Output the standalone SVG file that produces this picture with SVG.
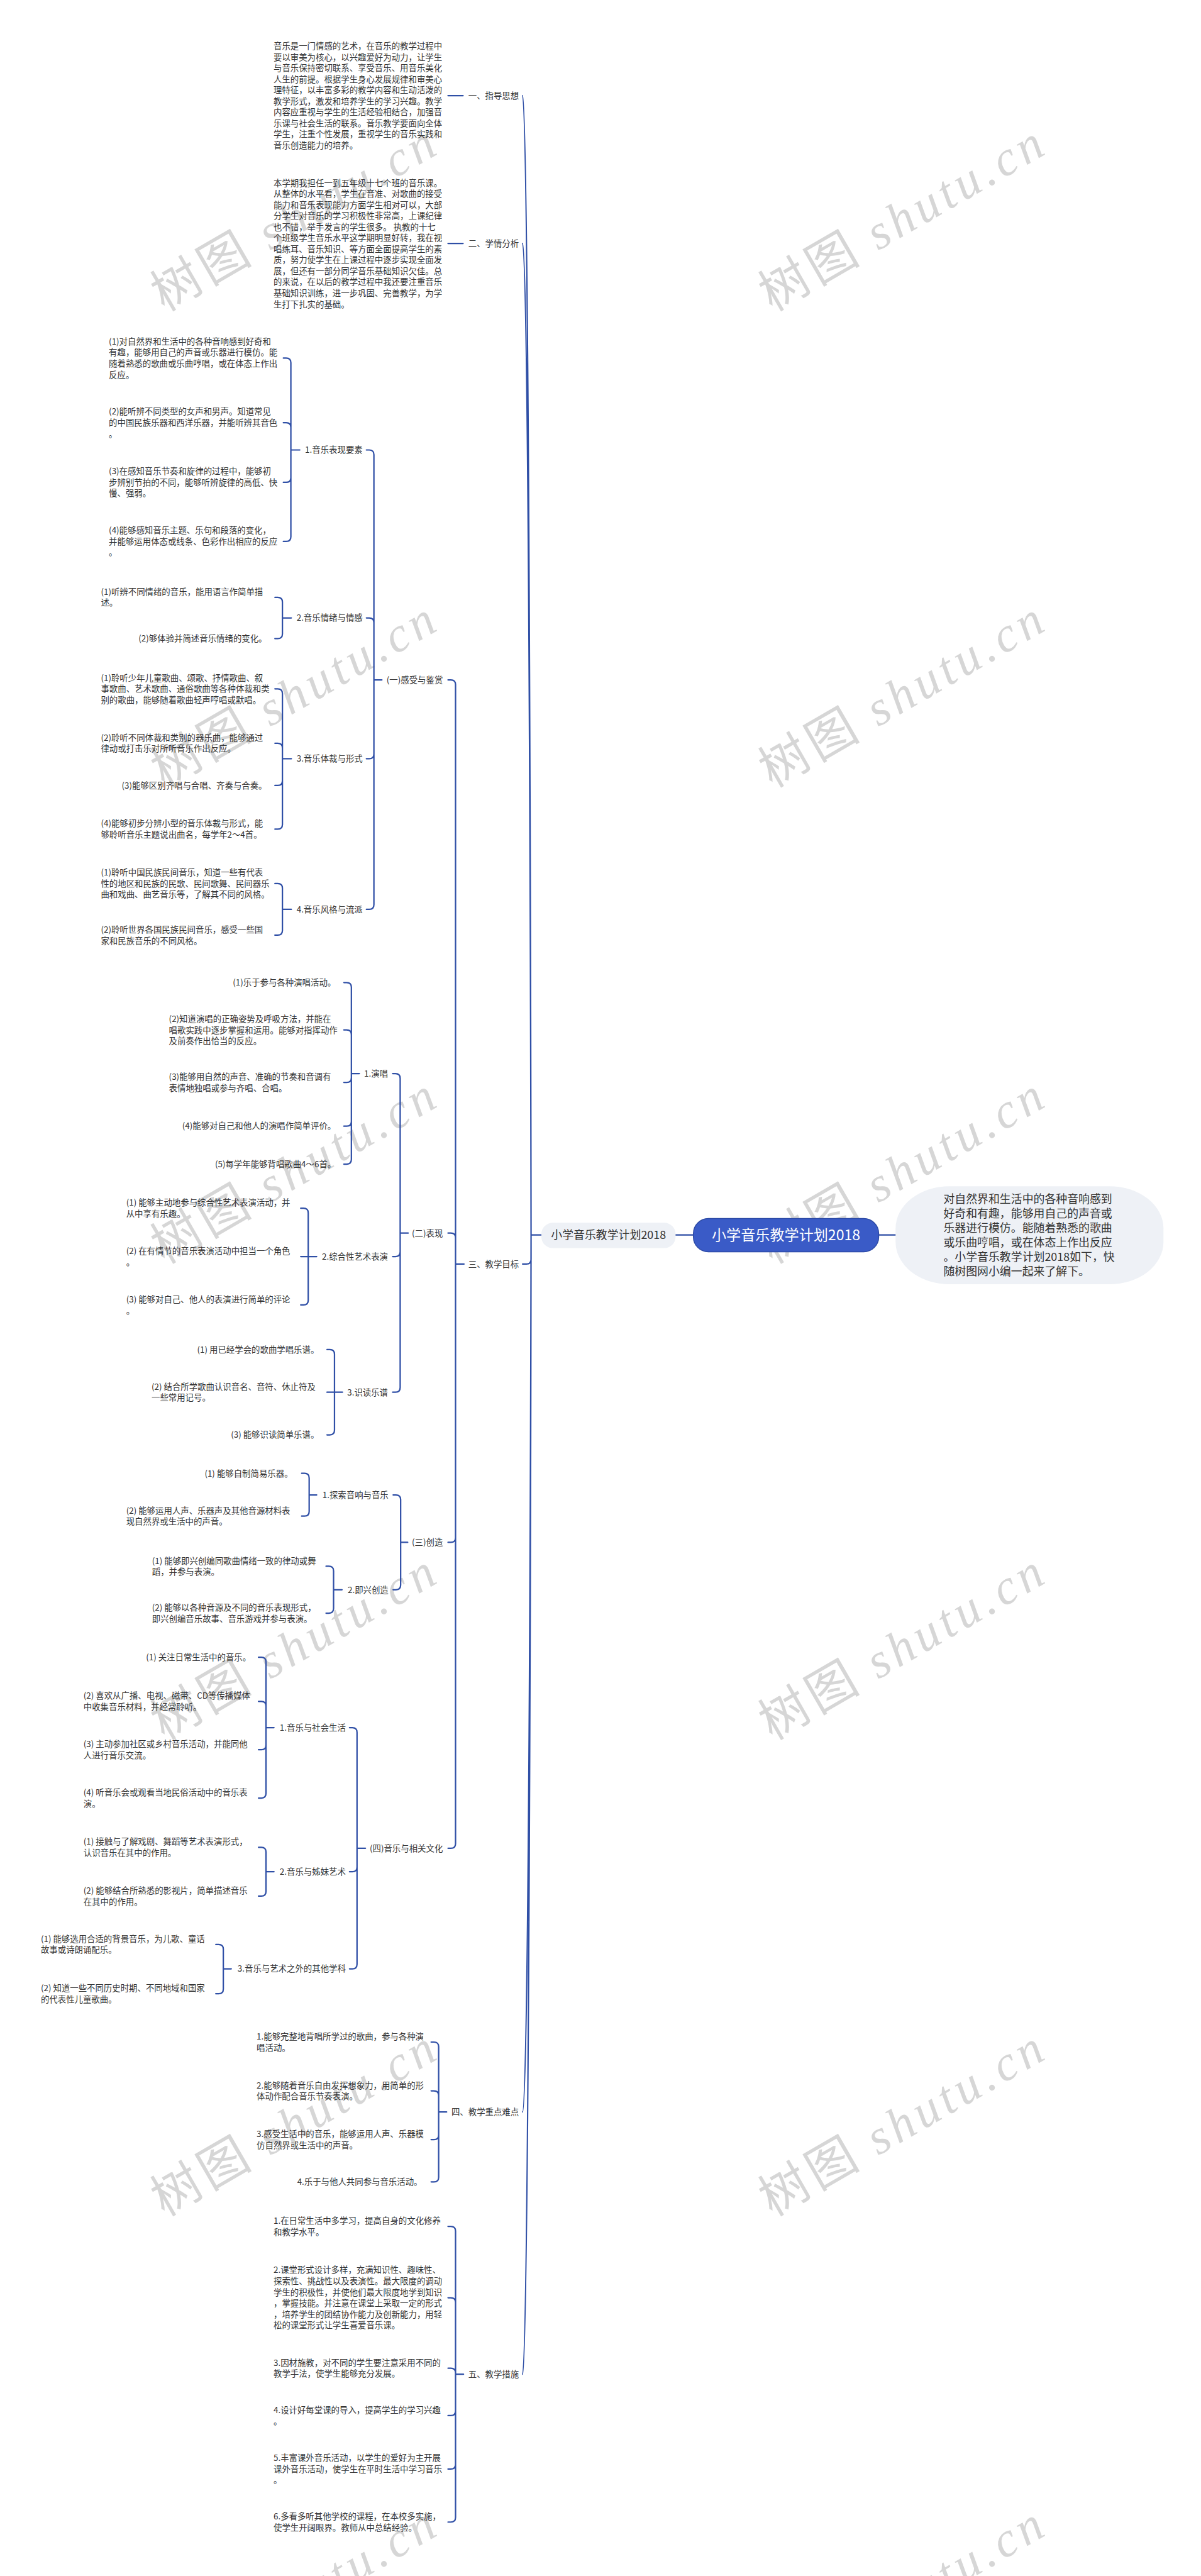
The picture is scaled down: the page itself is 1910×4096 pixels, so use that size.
<svg xmlns="http://www.w3.org/2000/svg" width="1910" height="4096" viewBox="0 0 1910 4096">
<style>
.t{font-family:"Noto Sans CJK SC","Noto Sans",sans-serif;font-size:18px;fill:#333333}
.e{text-anchor:end}
.c{fill:none;stroke:#2f4fa6;stroke-width:3;stroke-linecap:round;stroke-linejoin:round}
.wm{font-family:"Noto Sans CJK SC",sans-serif;font-size:105px;fill:#d6d6d6;letter-spacing:9px}
.wl{font-family:"Liberation Serif",serif;font-style:italic}
</style>
<rect width="1910" height="4096" fill="#ffffff"/>
<g transform="scale(0.74609375)">
<g id="watermarks">
<text class="wm" transform="translate(350 665) rotate(-30)">树图 <tspan class="wl">shutu.cn</tspan></text>
<text class="wm" transform="translate(350 1680) rotate(-30)">树图 <tspan class="wl">shutu.cn</tspan></text>
<text class="wm" transform="translate(350 2695) rotate(-30)">树图 <tspan class="wl">shutu.cn</tspan></text>
<text class="wm" transform="translate(350 3710) rotate(-30)">树图 <tspan class="wl">shutu.cn</tspan></text>
<text class="wm" transform="translate(350 4725) rotate(-30)">树图 <tspan class="wl">shutu.cn</tspan></text>
<text class="wm" transform="translate(350 5740) rotate(-30)">树图 <tspan class="wl">shutu.cn</tspan></text>
<text class="wm" transform="translate(1646 665) rotate(-30)">树图 <tspan class="wl">shutu.cn</tspan></text>
<text class="wm" transform="translate(1646 1680) rotate(-30)">树图 <tspan class="wl">shutu.cn</tspan></text>
<text class="wm" transform="translate(1646 2695) rotate(-30)">树图 <tspan class="wl">shutu.cn</tspan></text>
<text class="wm" transform="translate(1646 3710) rotate(-30)">树图 <tspan class="wl">shutu.cn</tspan></text>
<text class="wm" transform="translate(1646 4725) rotate(-30)">树图 <tspan class="wl">shutu.cn</tspan></text>
<text class="wm" transform="translate(1646 5740) rotate(-30)">树图 <tspan class="wl">shutu.cn</tspan></text>
</g>
<g id="connectors">
<path class="c" d="M1440 2632H1478M1873 2632H1909"/>
<path class="c" d="M1154 2632H1132M1132 2632C1132 2632 1129 204 1114 204M1132 2632C1132 2632 1129 519 1114 519M1132 2632V2684Q1132 2694 1122 2694H1114M1132 2632C1132 2632 1129 4501 1114 4501M1132 2632C1132 2632 1129 5060 1114 5060"/>
<path class="c" d="M987 204H955M987 519H955"/>
<path class="c" d="M971 2694H989M971 2694V1459Q971 1449 961 1449H955M971 2694V2638Q971 2628 961 2628H955M971 2694V3277Q971 3287 961 3287H955M971 2694V3929Q971 3939 961 3939H955"/>
<path class="c" d="M797 1449H814M797 1449V969Q797 959 787 959H781M797 1449V1327Q797 1317 787 1317H781M797 1449V1607Q797 1617 787 1617H781M797 1449V1928Q797 1938 787 1938H781"/>
<path class="c" d="M620 959H639M620 959V773Q620 763 610 763H604M620 959V911Q620 901 610 901H604M620 959V1018Q620 1028 610 1028H604M620 959V1144Q620 1154 610 1154H604"/>
<path class="c" d="M602 1317H621M602 1317V1283Q602 1273 592 1273H586M602 1317V1351Q602 1361 592 1361H586"/>
<path class="c" d="M602 1617H621M602 1617V1478Q602 1468 592 1468H586M602 1617V1594Q602 1584 592 1584H586M602 1617V1664Q602 1674 592 1674H586M602 1617V1757Q602 1767 592 1767H586"/>
<path class="c" d="M602 1938H621M602 1938V1893Q602 1883 592 1883H586M602 1938V1983Q602 1993 592 1993H586"/>
<path class="c" d="M853 2628H870M853 2628V2298Q853 2288 843 2288H837M853 2628V2668Q853 2678 843 2678H837M853 2628V2957Q853 2967 843 2967H837"/>
<path class="c" d="M749 2288H766M749 2288V2104Q749 2094 739 2094H733M749 2288V2205Q749 2195 739 2195H733M749 2288V2297Q749 2307 739 2307H733M749 2288V2390Q749 2400 739 2400H733M749 2288V2471Q749 2481 739 2481H733"/>
<path class="c" d="M657 2678H675M657 2678V2585Q657 2575 647 2575H641M657 2678H641M657 2678V2771Q657 2781 647 2781H641"/>
<path class="c" d="M713 2967H730M713 2967V2886Q713 2876 703 2876H697M713 2967H697M713 2967V3048Q713 3058 703 3058H697"/>
<path class="c" d="M854 3287H869M854 3287V3196Q854 3186 844 3186H838M854 3287V3378Q854 3388 844 3388H838"/>
<path class="c" d="M659 3186H675M659 3186V3150Q659 3140 649 3140H643M659 3186V3221Q659 3231 649 3231H643"/>
<path class="c" d="M711 3388H729M711 3388V3348Q711 3338 701 3338H695M711 3388V3428Q711 3438 701 3438H695"/>
<path class="c" d="M761 3939H779M761 3939V3692Q761 3682 751 3682H745M761 3939V3979Q761 3989 751 3989H745M761 3939V4186Q761 4196 751 4196H745"/>
<path class="c" d="M567 3682H584M567 3682V3542Q567 3532 557 3532H551M567 3682V3636Q567 3626 557 3626H551M567 3682V3719Q567 3729 557 3729H551M567 3682V3822Q567 3832 557 3832H551"/>
<path class="c" d="M567 3989H584M567 3989V3947Q567 3937 557 3937H551M567 3989V4031Q567 4041 557 4041H551"/>
<path class="c" d="M476 4196H493M476 4196V4154Q476 4144 466 4144H460M476 4196V4239Q476 4249 466 4249H460"/>
<path class="c" d="M935 4501H952M935 4501V4362Q935 4352 925 4352H919M935 4501V4466Q935 4456 925 4456H919M935 4501V4550Q935 4560 925 4560H919M935 4501V4640Q935 4650 925 4650H919"/>
<path class="c" d="M971 5060H988M971 5060V4755Q971 4745 961 4745H955M971 5060V4907Q971 4897 961 4897H955M971 5060V5057Q971 5047 961 5047H955M971 5060V5138Q971 5148 961 5148H955M971 5060V5252Q971 5262 961 5262H955M971 5060V5365Q971 5375 961 5375H955"/>
</g>
<g id="root">
<rect x="1478" y="2597" width="395" height="71" rx="32" fill="#3a5bc7" stroke="#2c4aa6" stroke-width="2"/>
<text x="1675.5" y="2643" text-anchor="middle" style="font-family:'Noto Sans CJK SC',sans-serif;font-size:31px;fill:#ffffff">小学音乐教学计划2018</text>
</g>
<g id="n-label">
<rect x="1154" y="2606" width="286" height="54" rx="24" fill="#eef1f6"/>
<text x="1297" y="2641" text-anchor="middle" style="font-family:'Noto Sans CJK SC',sans-serif;font-size:24px;fill:#333333">小学音乐教学计划2018</text>
</g>
<g id="n-summary">
<rect x="1909" y="2528" width="571" height="209" rx="115" ry="90" fill="#eef1f6"/>
<text x="2011" y="2563.6" style="font-family:'Noto Sans CJK SC',sans-serif;font-size:24px;fill:#333333"><tspan>对自然界和生活中的各种音响感到</tspan><tspan x="2011" dy="31">好奇和有趣，能够用自己的声音或</tspan><tspan x="2011" dy="31">乐器进行模仿。能随着熟悉的歌曲</tspan><tspan x="2011" dy="31">或乐曲哼唱，或在体态上作出反应</tspan><tspan x="2011" dy="31">。小学音乐教学计划2018如下，快</tspan><tspan x="2011" dy="31">随树图网小编一起来了解下。</tspan></text>
</g>
<g id="n1">
<text class="t e" x="1106" y="210.5">一、指导思想</text>
<text class="t" x="583" y="104.75"><tspan>音乐是一门情感的艺术，在音乐的教学过程中</tspan><tspan x="583" dy="23.5">要以审美为核心，以兴趣爱好为动力，让学生</tspan><tspan x="583" dy="23.5">与音乐保持密切联系、享受音乐、用音乐美化</tspan><tspan x="583" dy="23.5">人生的前提。根据学生身心发展规律和审美心</tspan><tspan x="583" dy="23.5">理特征，以丰富多彩的教学内容和生动活泼的</tspan><tspan x="583" dy="23.5">教学形式，激发和培养学生的学习兴趣。教学</tspan><tspan x="583" dy="23.5">内容应重视与学生的生活经验相结合，加强音</tspan><tspan x="583" dy="23.5">乐课与社会生活的联系。音乐教学要面向全体</tspan><tspan x="583" dy="23.5">学生，注重个性发展，重视学生的音乐实践和</tspan><tspan x="583" dy="23.5">音乐创造能力的培养。</tspan></text>
</g>
<g id="n2">
<text class="t e" x="1106" y="525.5">二、学情分析</text>
<text class="t" x="583" y="396.25"><tspan>本学期我担任一到五年级十七个班的音乐课。</tspan><tspan x="583" dy="23.5">从整体的水平看，学生在音准、对歌曲的接受</tspan><tspan x="583" dy="23.5">能力和音乐表现能力方面学生相对可以，大部</tspan><tspan x="583" dy="23.5">分学生对音乐的学习积极性非常高，上课纪律</tspan><tspan x="583" dy="23.5">也不错，举手发言的学生很多。 执教的十七</tspan><tspan x="583" dy="23.5">个班级学生音乐水平这学期明显好转，我在视</tspan><tspan x="583" dy="23.5">唱练耳、音乐知识、等方面全面提高学生的素</tspan><tspan x="583" dy="23.5">质，努力使学生在上课过程中逐步实现全面发</tspan><tspan x="583" dy="23.5">展，但还有一部分同学音乐基础知识欠佳。总</tspan><tspan x="583" dy="23.5">的来说，在以后的教学过程中我还要注重音乐</tspan><tspan x="583" dy="23.5">基础知识训练，进一步巩固、完善教学，为学</tspan><tspan x="583" dy="23.5">生打下扎实的基础。</tspan></text>
</g>
<g id="n3">
<text class="t e" x="1106" y="2700.5">三、教学目标</text>
</g>
<g id="n3-1">
<text class="t e" x="944" y="1455.5">(一)感受与鉴赏</text>
</g>
<g id="n3-1-1">
<text class="t e" x="773" y="965.5">1.音乐表现要素</text>
<text class="t" x="232" y="734.1"><tspan>(1)对自然界和生活中的各种音响感到好奇和</tspan><tspan x="232" dy="23.6">有趣，能够用自己的声音或乐器进行模仿。能</tspan><tspan x="232" dy="23.6">随着熟悉的歌曲或乐曲哼唱，或在体态上作出</tspan><tspan x="232" dy="23.6">反应。</tspan></text>
<text class="t" x="232" y="883.9"><tspan>(2)能听辨不同类型的女声和男声。知道常见</tspan><tspan x="232" dy="23.6">的中国民族乐器和西洋乐器，并能听辨其音色</tspan><tspan x="232" dy="23.6">。</tspan></text>
<text class="t" x="232" y="1010.9"><tspan>(3)在感知音乐节奏和旋律的过程中，能够初</tspan><tspan x="232" dy="23.6">步辨别节拍的不同，能够听辨旋律的高低、快</tspan><tspan x="232" dy="23.6">慢、强弱。</tspan></text>
<text class="t" x="232" y="1136.9"><tspan>(4)能够感知音乐主题、乐句和段落的变化，</tspan><tspan x="232" dy="23.6">并能够运用体态或线条、色彩作出相应的反应</tspan><tspan x="232" dy="23.6">。</tspan></text>
</g>
<g id="n3-1-2">
<text class="t e" x="773" y="1323.5">2.音乐情绪与情感</text>
<text class="t" x="215" y="1267.7"><tspan>(1)听辨不同情绪的音乐，能用语言作简单描</tspan><tspan x="215" dy="23.6">述。</tspan></text>
<text class="t e" x="569" y="1367.5">(2)够体验并简述音乐情绪的变化。</text>
</g>
<g id="n3-1-3">
<text class="t e" x="773" y="1623.5">3.音乐体裁与形式</text>
<text class="t" x="215" y="1450.9"><tspan>(1)聆听少年儿童歌曲、颂歌、抒情歌曲、叙</tspan><tspan x="215" dy="23.6">事歌曲、艺术歌曲、通俗歌曲等各种体裁和类</tspan><tspan x="215" dy="23.6">别的歌曲，能够随着歌曲轻声哼唱或默唱。</tspan></text>
<text class="t" x="215" y="1578.7"><tspan>(2)聆听不同体裁和类别的器乐曲，能够通过</tspan><tspan x="215" dy="23.6">律动或打击乐对所听音乐作出反应。</tspan></text>
<text class="t e" x="569" y="1680.5">(3)能够区别齐唱与合唱、齐奏与合奏。</text>
<text class="t" x="215" y="1761.7"><tspan>(4)能够初步分辨小型的音乐体裁与形式，能</tspan><tspan x="215" dy="23.6">够聆听音乐主题说出曲名，每学年2～4首。</tspan></text>
</g>
<g id="n3-1-4">
<text class="t e" x="773" y="1944.5">4.音乐风格与流派</text>
<text class="t" x="215" y="1865.9"><tspan>(1)聆听中国民族民间音乐，知道一些有代表</tspan><tspan x="215" dy="23.6">性的地区和民族的民歌、民间歌舞、民间器乐</tspan><tspan x="215" dy="23.6">曲和戏曲、曲艺音乐等，了解其不同的风格。</tspan></text>
<text class="t" x="215" y="1987.7"><tspan>(2)聆听世界各国民族民间音乐，感受一些国</tspan><tspan x="215" dy="23.6">家和民族音乐的不同风格。</tspan></text>
</g>
<g id="n3-2">
<text class="t e" x="944" y="2634.5">(二)表现</text>
</g>
<g id="n3-2-1">
<text class="t e" x="827" y="2294.5">1.演唱</text>
<text class="t e" x="716" y="2100.5">(1)乐于参与各种演唱活动。</text>
<text class="t" x="360" y="2177.9"><tspan>(2)知道演唱的正确姿势及呼吸方法，并能在</tspan><tspan x="360" dy="23.6">唱歌实践中逐步掌握和运用。能够对指挥动作</tspan><tspan x="360" dy="23.6">及前奏作出恰当的反应。</tspan></text>
<text class="t" x="360" y="2301.7"><tspan>(3)能够用自然的声音、准确的节奏和音调有</tspan><tspan x="360" dy="23.6">表情地独唱或参与齐唱、合唱。</tspan></text>
<text class="t e" x="716" y="2406.5">(4)能够对自己和他人的演唱作简单评价。</text>
<text class="t e" x="716" y="2487.5">(5)每学年能够背唱歌曲4～6首。</text>
</g>
<g id="n3-2-2">
<text class="t e" x="827" y="2684.5">2.综合性艺术表演</text>
<text class="t" x="269" y="2569.7"><tspan>(1) 能够主动地参与综合性艺术表演活动，并</tspan><tspan x="269" dy="23.6">从中享有乐趣。</tspan></text>
<text class="t" x="269" y="2672.7"><tspan>(2) 在有情节的音乐表演活动中担当一个角色</tspan><tspan x="269" dy="23.6">。</tspan></text>
<text class="t" x="269" y="2775.7"><tspan>(3) 能够对自己、他人的表演进行简单的评论</tspan><tspan x="269" dy="23.6">。</tspan></text>
</g>
<g id="n3-2-3">
<text class="t e" x="827" y="2973.5">3.识读乐谱</text>
<text class="t e" x="680" y="2882.5">(1) 用已经学会的歌曲学唱乐谱。</text>
<text class="t" x="323" y="2961.7"><tspan>(2) 结合所学歌曲认识音名、音符、休止符及</tspan><tspan x="323" dy="23.6">一些常用记号。</tspan></text>
<text class="t e" x="680" y="3064.5">(3) 能够识读简单乐谱。</text>
</g>
<g id="n3-3">
<text class="t e" x="944" y="3293.5">(三)创造</text>
</g>
<g id="n3-3-1">
<text class="t e" x="828" y="3192.5">1.探索音响与音乐</text>
<text class="t e" x="624" y="3146.5">(1) 能够自制简易乐器。</text>
<text class="t" x="269" y="3225.7"><tspan>(2) 能够运用人声、乐器声及其他音源材料表</tspan><tspan x="269" dy="23.6">现自然界或生活中的声音。</tspan></text>
</g>
<g id="n3-3-2">
<text class="t e" x="828" y="3394.5">2.即兴创造</text>
<text class="t" x="324" y="3332.7"><tspan>(1) 能够即兴创编同歌曲情绪一致的律动或舞</tspan><tspan x="324" dy="23.6">蹈，并参与表演。</tspan></text>
<text class="t" x="324" y="3432.7"><tspan>(2) 能够以各种音源及不同的音乐表现形式，</tspan><tspan x="324" dy="23.6">即兴创编音乐故事、音乐游戏并参与表演。</tspan></text>
</g>
<g id="n3-4">
<text class="t e" x="944" y="3945.5">(四)音乐与相关文化</text>
</g>
<g id="n3-4-1">
<text class="t e" x="737" y="3688.5">1.音乐与社会生活</text>
<text class="t e" x="535" y="3538.5">(1) 关注日常生活中的音乐。</text>
<text class="t" x="178" y="3620.7"><tspan>(2) 喜欢从广播、电视、磁带、CD等传播媒体</tspan><tspan x="178" dy="23.6">中收集音乐材料，并经常聆听。</tspan></text>
<text class="t" x="178" y="3723.7"><tspan>(3) 主动参加社区或乡村音乐活动，并能同他</tspan><tspan x="178" dy="23.6">人进行音乐交流。</tspan></text>
<text class="t" x="178" y="3826.7"><tspan>(4) 听音乐会或观看当地民俗活动中的音乐表</tspan><tspan x="178" dy="23.6">演。</tspan></text>
</g>
<g id="n3-4-2">
<text class="t e" x="737" y="3995.5">2.音乐与姊妹艺术</text>
<text class="t" x="178" y="3931.7"><tspan>(1) 接触与了解戏剧、舞蹈等艺术表演形式，</tspan><tspan x="178" dy="23.6">认识音乐在其中的作用。</tspan></text>
<text class="t" x="178" y="4035.7"><tspan>(2) 能够结合所熟悉的影视片，简单描述音乐</tspan><tspan x="178" dy="23.6">在其中的作用。</tspan></text>
</g>
<g id="n3-4-3">
<text class="t e" x="737" y="4202.5">3.音乐与艺术之外的其他学科</text>
<text class="t" x="87" y="4138.7"><tspan>(1) 能够选用合适的背景音乐，为儿歌、童话</tspan><tspan x="87" dy="23.6">故事或诗朗诵配乐。</tspan></text>
<text class="t" x="87" y="4243.7"><tspan>(2) 知道一些不同历史时期、不同地域和国家</tspan><tspan x="87" dy="23.6">的代表性儿童歌曲。</tspan></text>
</g>
<g id="n4">
<text class="t e" x="1106" y="4507.5">四、教学重点难点</text>
<text class="t" x="547" y="4346.7"><tspan>1.能够完整地背唱所学过的歌曲，参与各种演</tspan><tspan x="547" dy="23.6">唱活动。</tspan></text>
<text class="t" x="547" y="4450.7"><tspan>2.能够随着音乐自由发挥想象力，用简单的形</tspan><tspan x="547" dy="23.6">体动作配合音乐节奏表演。</tspan></text>
<text class="t" x="547" y="4554.7"><tspan>3.感受生活中的音乐，能够运用人声、乐器模</tspan><tspan x="547" dy="23.6">仿自然界或生活中的声音。</tspan></text>
<text class="t e" x="900" y="4656.5">4.乐于与他人共同参与音乐活动。</text>
</g>
<g id="n5">
<text class="t e" x="1106" y="5066.5">五、教学措施</text>
<text class="t" x="583" y="4739.7"><tspan>1.在日常生活中多学习，提高自身的文化修养</tspan><tspan x="583" dy="23.6">和教学水平。</tspan></text>
<text class="t" x="583" y="4844.5"><tspan>2.课堂形式设计多样，充满知识性、趣味性、</tspan><tspan x="583" dy="23.6">探索性、挑战性以及表演性。最大限度的调动</tspan><tspan x="583" dy="23.6">学生的积极性，并使他们最大限度地学到知识</tspan><tspan x="583" dy="23.6">，掌握技能。并注意在课堂上采取一定的形式</tspan><tspan x="583" dy="23.6">，培养学生的团结协作能力及创新能力，用轻</tspan><tspan x="583" dy="23.6">松的课堂形式让学生喜爱音乐课。</tspan></text>
<text class="t" x="583" y="5041.7"><tspan>3.因材施教，对不同的学生要注意采用不同的</tspan><tspan x="583" dy="23.6">教学手法，使学生能够充分发展。</tspan></text>
<text class="t" x="583" y="5142.7"><tspan>4.设计好每堂课的导入，提高学生的学习兴趣</tspan><tspan x="583" dy="23.6">。</tspan></text>
<text class="t" x="583" y="5244.9"><tspan>5.丰富课外音乐活动，以学生的爱好为主开展</tspan><tspan x="583" dy="23.6">课外音乐活动，使学生在平时生活中学习音乐</tspan><tspan x="583" dy="23.6">。</tspan></text>
<text class="t" x="583" y="5369.7"><tspan>6.多看多听其他学校的课程，在本校多实施，</tspan><tspan x="583" dy="23.6">使学生开阔眼界。教师从中总结经验。</tspan></text>
</g>
</g>
</svg>
